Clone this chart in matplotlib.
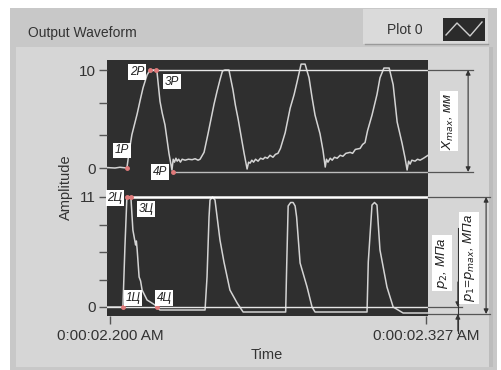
import matplotlib.pyplot as plt
from matplotlib.patches import Rectangle
from matplotlib.lines import Line2D
from matplotlib.transforms import blended_transform_factory

plt.rcParams['font.family'] = ['Liberation Sans', 'DejaVu Sans']

# time in ms after 0:00:02.200
t_x = [-1.2, 2.0, 4.0, 6.0, 6.8, 7.6, 8.8, 10.0, 10.9, 12.2, 13.3, 14.9, 16.1, 18.1, 18.9,
       20.1, 21.0, 22.1, 23.7, 24.9, 25.4, 25.9, 26.5, 27.0, 27.6, 28.3, 29.0, 30.2, 31.5,
       33.0, 34.2, 35.4, 36.2, 37.8, 39.4, 40.6, 41.8, 43.0, 44.2, 45.2, 46.2, 47.8, 49.4,
       50.4, 51.5, 53.0, 53.9, 55.1, 55.7, 56.3, 57.0, 57.7, 58.5, 59.5, 60.5, 61.5, 62.3,
       63.3, 64.3, 65.5, 66.5, 67.5, 68.5, 70.4, 72.4, 74.0, 75.2, 76.8, 78.4, 80.0, 81.2,
       82.4, 84.4, 85.6, 86.5, 87.0, 87.6, 88.5, 89.3, 90.2, 91.3, 92.5, 93.6, 94.8, 96.5,
       97.5, 98.6, 100.5, 101.5, 102.5, 103.5, 105.3, 107.3, 108.5, 110.1, 112.2, 113.8,
       115.4, 117.4, 118.6, 119.4, 120.0, 120.6, 121.3, 122.6, 123.6, 124.6, 126.0, 127.8]
x_mm = [0.05, 0.0, 0.08, 0.02, 0.0, 1.5, 3.4, 4.6, 5.5, 7.0, 8.2, 9.5, 10.0, 10.0, 9.8,
        6.8, 5.6, 4.4, 1.5, -0.2, 0.9, 0.6, 1.0, 0.7, 0.9, 0.6, 0.9, 0.8, 0.9,
        0.85, 0.95, 0.8, 0.9, 1.6, 3.5, 5.0, 6.5, 7.8, 9.0, 9.9, 10.0, 10.0, 8.0,
        6.4, 5.0, 2.8, 1.5, -0.1, 0.6, 0.5, 0.8, 0.6, 0.9, 0.7, 1.0, 0.9, 1.1,
        1.0, 1.3, 1.1, 1.4, 1.5, 2.0, 3.6, 6.1, 7.5, 8.8, 10.6, 10.6, 9.2, 7.2,
        5.4, 3.5, 1.8, 0.1, 0.9, 0.6, 1.0, 0.8, 1.1, 1.0, 1.3, 1.2, 1.5, 1.6,
        1.5, 1.9, 2.0, 2.4, 2.6, 3.8, 5.4, 7.5, 9.2, 10.2, 10.2, 8.5,
        4.7, 2.5, 1.0, -0.2, 0.7, 0.4, 0.8, 0.7, 0.9, 0.8, 1.0, 1.3]

t_p = [-1.2, 5.2, 6.0, 6.8, 8.4, 9.2, 10.3, 10.6, 10.9, 11.7, 12.3, 12.9, 14.9, 18.1, 18.9,
       20.1, 28.0, 36.2, 38.2, 39.0, 39.8, 40.2, 41.2, 42.2, 42.8, 44.2, 45.8, 48.2, 51.1,
       53.5, 62.0, 70.6, 71.0, 71.6, 72.6, 73.6, 74.4, 75.0, 76.4, 79.2, 81.2, 82.4, 92.0,
       103.3, 103.8, 105.3, 106.3, 107.3, 108.5, 111.3, 113.8, 117.8, 127.8]
p_mpa = [0.0, 0.0, 6.0, 11.0, 11.0, 7.7, 6.2, 6.6, 5.8, 3.0, 2.6, 1.7, 0.7, 0.2, -0.1,
         -0.3, -0.3, -0.3, -0.3, 3.0, 9.0, 10.7, 11.0, 10.7, 9.5, 6.7, 4.5, 1.7, 0.4,
         -0.5, -0.5, -0.5, 4.0, 10.1, 10.45, 10.45, 10.1, 9.0, 4.4, 2.0, 0.0, -0.5, -0.5,
         -0.5, 4.5, 10.2, 10.45, 10.2, 5.7, 2.0, 0.0, -0.6, -0.6]

# marked points: name, t, value, label t, label value
pts_x = [('1Р', 6.8, 0.0, 4.8, 1.8), ('2Р', 16.1, 10.0, 10.9, 9.8),
         ('3Р', 18.5, 10.0, 24.9, 8.8), ('4Р', 25.3, -0.4, 20.1, -0.4)]
pts_p = [('2Ц', 6.8, 11.0, 2.0, 10.9), ('3Ц', 8.4, 11.0, 14.5, 9.8),
         ('1Ц', 5.2, 0.0, 9.2, 0.9), ('4Ц', 18.9, 0.0, 21.7, 0.9)]

x_ticks = [0, 127]
x_ticklabels = ['0:00:02.200 AM', '0:00:02.327 AM']

W, H = 501, 370
fig = plt.figure(figsize=(W / 100, H / 100), dpi=100)
fig.patch.set_facecolor('white')


def box(x0, y0, x1, y1, **kw):
    fig.patches.append(Rectangle((x0 / W, 1 - y1 / H), (x1 - x0) / W, (y1 - y0) / H,
                                 transform=fig.transFigure, zorder=-5, **kw))


# LabVIEW style panels
box(10, 8, 497, 370, fc='#c8c8c8', ec='none')
box(16, 47, 489, 367, fc='#d6d6d6', ec='none')
box(489, 47, 493, 367, fc='#bcbcbc', ec='none')
box(363, 9, 488, 44, fc='#dadada', ec='none')
fig.add_artist(Line2D([365 / W, 488 / W], [1 - 44 / H] * 2, color='#9a9a9a', lw=1, zorder=-4))
box(443, 18, 485, 41, fc='#2b2b2b', ec='none')
fig.add_artist(Line2D([x / W for x in (446, 457, 470, 482)],
                      [1 - y / H for y in (35, 23, 36, 22)], color='#cfcfcf', lw=1, zorder=-4))
fig.text(405 / W, 1 - 30 / H, 'Plot 0', ha='center', va='center', fontsize=10, color='#333')
fig.text(28 / W, 1 - 33 / H, 'Output Waveform', ha='left', va='center', fontsize=10, color='#333')
fig.text(66 / W, 1 - 187 / H, 'Amplitude', ha='center', va='center', rotation=90,
         fontsize=10.5, color='#333')
fig.text(267 / W, 1 - 355 / H, 'Time', ha='center', va='center', fontsize=10.5, color='#333')

ax1 = fig.add_axes([107 / W, 1 - 185 / H, 321 / W, 125 / H])
ax2 = fig.add_axes([107 / W, 1 - 316 / H, 321 / W, 131 / H])

for ax in (ax1, ax2):
    ax.set_facecolor('#2f2f2f')
    for s in ax.spines.values():
        s.set_visible(False)
    ax.set_xlim(-1.2, 127.8)
    ax.tick_params(axis='y', direction='out', length=6, width=1, color='#555',
                   labelsize=11, labelcolor='#333', pad=2)

ax1.plot(t_x, x_mm, color='#d4d4d4', lw=1.1)
ax1.set_ylim(-1.73, 11.02)
ax1.set_yticks([0, 10 / 3, 20 / 3, 10])
ax1.set_yticklabels(['0', '', '', '10'])
ax1.set_xticks([])

ax2.plot(t_p, p_mpa, color='#d4d4d4', lw=1.1)
ax2.set_ylim(-0.9, 12.2)
ax2.set_yticks([0, 2.75, 5.5, 8.25, 11])
ax2.set_yticklabels(['0', '', '', '', '11'])
ax2.set_xticks(x_ticks)
ax2.set_xticklabels(x_ticklabels)
ax2.tick_params(axis='x', direction='out', length=6, width=1, color='#555',
                labelsize=11, labelcolor='#333', pad=3)

note = dict(fontsize=8.5, style='italic', color='#222', ha='center', va='center',
            bbox=dict(fc='white', ec='none', pad=1.2))


def hline(ax, y, t0, x_end, inner='#e6e6e6', lw=1.0):
    tr = blended_transform_factory(ax.transAxes, ax.transData)
    ax.plot([t0, 127.8], [y, y], color=inner, lw=lw)
    ax.plot([1.0, x_end], [y, y], color='#555', lw=0.9, transform=tr, clip_on=False)


def arrow(ax, x, y0, y1, style='<|-|>'):
    tr = blended_transform_factory(ax.transAxes, ax.transData)
    ax.annotate('', xy=(x, y1), xytext=(x, y0), xycoords=tr, textcoords=tr,
                arrowprops=dict(arrowstyle=style, color='#333', lw=0.8, shrinkA=0,
                                shrinkB=0, mutation_scale=7),
                annotation_clip=False)


# displacement annotations
hline(ax1, 10.0, 16.1, 1.14)
hline(ax1, -0.4, 25.3, 1.14, inner='#bdbdbd')
arrow(ax1, 1.125, -0.4, 10.0)
tr1 = blended_transform_factory(ax1.transAxes, ax1.transData)
ax1.text(1.065, 4.8, r'$X_{max}$, мм', transform=tr1, rotation=90, clip_on=False,
         **{**note, 'fontsize': 9.5})

# pressure annotations
hline(ax2, 11.0, 6.8, 1.193, inner='#ffffff', lw=1.8)
hline(ax2, 0.0, -1.2, 1.106)
tr2 = blended_transform_factory(ax2.transAxes, ax2.transData)
ax2.plot([1.0, 1.193], [-0.7, -0.7], color='#555', lw=0.9, transform=tr2, clip_on=False)
ax2.plot([1.093, 1.093], [7.9, -2.6], color='#333', lw=0.8, transform=tr2, clip_on=False)
arrow(ax2, 1.093, 2.5, 0.0, style='-|>')
arrow(ax2, 1.093, -2.4, -0.7, style='-|>')
arrow(ax2, 1.181, -0.7, 11.0)
ax2.text(1.044, 4.4, r'$p_2$, МПа', transform=tr2, rotation=90, clip_on=False,
         **{**note, 'fontsize': 9.5})
ax2.text(1.128, 4.9, r'$p_1$=$p_{max}$, МПа', transform=tr2, rotation=90, clip_on=False,
         **{**note, 'fontsize': 9.5})

for ax, pts in ((ax1, pts_x), (ax2, pts_p)):
    for name, t, v, lt, lv in pts:
        ax.plot(t, v, 'o', ms=2.5, color='#e07a7a', zorder=5)
        ax.text(lt, lv, name, zorder=6, **note)

fig.savefig('out.png', dpi=100)
